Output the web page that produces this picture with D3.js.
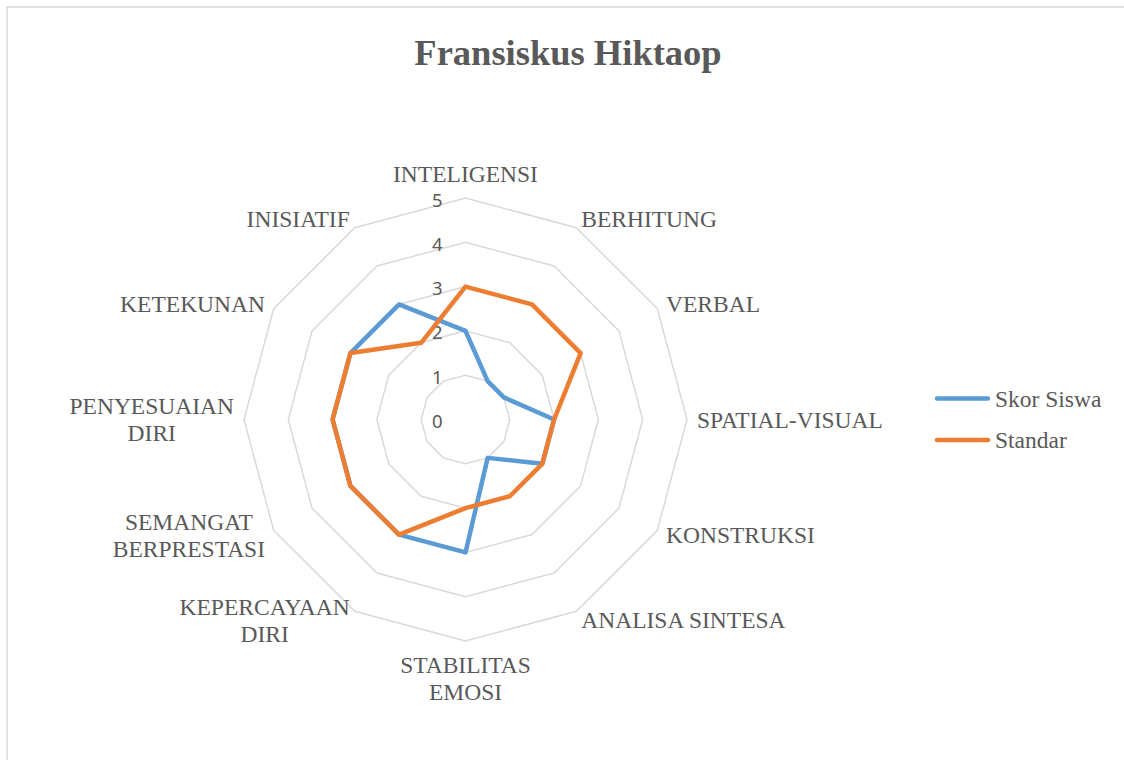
<!DOCTYPE html>
<html>
<head>
<meta charset="utf-8">
<script src="https://cdn.jsdelivr.net/npm/d3@7"></script>
<style>
  html, body { margin: 0; padding: 0; background: #fff; }
  #chart { width: 1124px; height: 760px; }
</style>
</head>
<body>
<div id="chart"></div>
<script>
const chart_title = "Fransiskus Hiktaop";
const categories = ["INTELIGENSI", "BERHITUNG", "VERBAL", "SPATIAL-VISUAL", "KONSTRUKSI", "ANALISA SINTESA",
  "STABILITAS EMOSI", "KEPERCAYAAN DIRI", "SEMANGAT BERPRESTASI", "PENYESUAIAN DIRI", "KETEKUNAN", "INISIATIF"];
const wrapped_labels = ["STABILITAS EMOSI", "KEPERCAYAAN DIRI", "SEMANGAT BERPRESTASI", "PENYESUAIAN DIRI"];
const skor_siswa = [2, 1, 1, 2, 2, 1, 3, 3, 3, 3, 3, 3];
const standar = [3, 3, 3, 2, 2, 2, 2, 3, 3, 3, 3, 2];
const series_names = ["Skor Siswa", "Standar"];
const series_colors = ["#5B9BD5", "#ED7D31"];
const ticks = [0, 1, 2, 3, 4, 5];

class RadarChart {
  constructor(container){
    this.container = container;
    this.width = 1124;
    this.height = 760;
    this.cx = 465.5;
    this.cy = 419.5;
    this.radius = 221.5;
    this.label_font = "'Liberation Serif', 'Times New Roman', serif";
    this.label_size = 23.5;
    this.line_h = 27;
    this.init();
  }
  angle = (i) => i * 2 * Math.PI / categories.length;
  point = (i, v) => {
    const a = this.angle(i);
    const r = this.r(v);
    return [this.cx + r * Math.sin(a), this.cy - r * Math.cos(a)];
  }
  init = () => {
    this.svg = d3.select(this.container)
      .append("svg")
        .attr("width", this.width)
        .attr("height", this.height);
    this.r = d3.scaleLinear().domain([0, d3.max(ticks)]).range([0, this.radius]);

    // ramka wykresu
    this.svg.append("rect")
      .attr("x", 7).attr("y", 7)
      .attr("width", 1140).attr("height", 780)
      .attr("fill", "none")
      .attr("stroke", "#D9D9D9")
      .attr("stroke-width", 1.5);

    this.svg.append("text")
      .text(chart_title)
      .attr("x", 568)
      .attr("y", 65)
      .attr("text-anchor", "middle")
      .attr("font-family", this.label_font)
      .attr("font-weight", "bold")
      .attr("font-size", "36.5px")
      .attr("fill", "#595959");

    this.draw_grid();
    this.draw_series();
    this.draw_labels();
    this.draw_legend();
  }
  draw_grid = () => {
    const g = this.svg.append("g");
    const ring = d3.line().curve(d3.curveLinearClosed);
    g.selectAll("path")
      .data(ticks.filter(t => t > 0))
      .enter()
      .append("path")
        .attr("d", t => ring(categories.map((c, i) => this.point(i, t))))
        .attr("fill", "none")
        .attr("stroke", "#D9D9D9")
        .attr("stroke-width", 1.5);
    g.selectAll("text")
      .data(ticks)
      .enter()
      .append("text")
        .text(t => t)
        .attr("x", this.cx - 23)
        .attr("y", t => this.cy - this.r(t) + 8.5)
        .attr("text-anchor", "end")
        .attr("font-family", "'Noto Sans', 'Open Sans', sans-serif")
        .attr("font-size", "18.5px")
        .attr("fill", "#595959");
  }
  draw_series = () => {
    const line = d3.line().curve(d3.curveLinearClosed);
    [skor_siswa, standar].forEach((values, s) => {
      this.svg.append("path")
        .attr("d", line(values.map((v, i) => this.point(i, v))))
        .attr("fill", "none")
        .attr("stroke", series_colors[s])
        .attr("stroke-width", 4.5)
        .attr("stroke-linejoin", "round");
    });
  }
  draw_labels = () => {
    const g = this.svg.append("g");
    categories.forEach((name, i) => {
      const lines = wrapped_labels.includes(name) ? name.split(" ") : [name];
      const a = this.angle(i);
      const sx = Math.sin(a), cy = Math.cos(a);
      const [px, py] = this.point(i, d3.max(ticks)).map((p, k) => p + (k == 0 ? sx * 10 : -cy * 10));
      const txt = g.append("text")
        .attr("font-family", this.label_font)
        .attr("font-size", this.label_size + "px")
        .attr("fill", "#595959")
        .attr("text-anchor", "middle");
      const spans = lines.map(l => txt.append("tspan").text(l));
      const block_w = d3.max(spans, sp => sp.node().getComputedTextLength());
      const block_h = lines.length * this.line_h;
      let bx = px;
      if(sx > 0.01) bx = px + block_w / 2;
      else if(sx < -0.01) bx = px - block_w / 2;
      let by = py;
      if(Math.abs(sx) < 0.01) by = cy > 0 ? py - block_h / 2 - 1 : py + block_h / 2;
      spans.forEach((sp, k) => {
        sp.attr("x", bx)
          .attr("y", by + (k - (lines.length - 1) / 2) * this.line_h + 0.35 * this.label_size);
      });
    });
  }
  draw_legend = () => {
    const g = this.svg.append("g");
    series_names.forEach((name, s) => {
      const y = 398.5 + s * 41.5;
      g.append("line")
        .attr("x1", 937).attr("x2", 988)
        .attr("y1", y).attr("y2", y)
        .attr("stroke", series_colors[s])
        .attr("stroke-width", 4.5)
        .attr("stroke-linecap", "round");
      g.append("text")
        .text(name)
        .attr("x", 995)
        .attr("y", y + 8)
        .attr("font-family", this.label_font)
        .attr("font-size", this.label_size + "px")
        .attr("fill", "#595959");
    });
  }
}

new RadarChart(document.getElementById("chart"));
</script>
</body>
</html>
